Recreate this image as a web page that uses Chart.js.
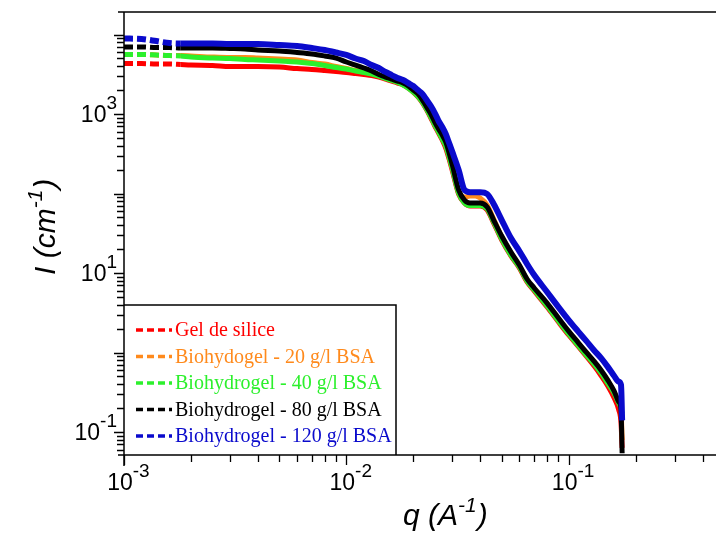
<!DOCTYPE html>
<html lang="fr">
<head>
<meta charset="UTF-8">
<title>SAXS - Biohydrogels</title>
<script src="https://cdn.jsdelivr.net/npm/chart.js"></script>
<style>
  html, body { margin: 0; padding: 0; background: #fff; }
  #wrap { width: 716px; height: 535px; }
</style>
</head>
<body>
<div id="wrap"><canvas id="saxsChart" width="716" height="535"></canvas></div>
<script>
// q in 1/A
const qValues = [0.001, 0.0012, 0.0014, 0.0016, 0.0018, 0.002, 0.0025, 0.003, 0.0035, 0.004,
  0.005, 0.006, 0.007, 0.008, 0.009, 0.010, 0.011, 0.012, 0.013, 0.014,
  0.015, 0.016, 0.017, 0.018, 0.019, 0.020, 0.021, 0.022, 0.023, 0.024,
  0.025, 0.026, 0.027, 0.028, 0.029, 0.030, 0.032, 0.034, 0.036, 0.038,
  0.040, 0.043, 0.046, 0.050, 0.055, 0.060, 0.065, 0.070, 0.080, 0.090,
  0.100, 0.110, 0.120, 0.130, 0.140, 0.150, 0.160, 0.168, 0.172, 0.174];

// I in 1/cm
const gelSilice = [4310, 4310, 4250, 4250, 4190, 4130, 4080, 3960, 3960, 3960,
  3900, 3730, 3630, 3520, 3420, 3330, 3230, 3140, 3050, 2920,
  2750, 2600, 2450, 2320, 2120, 1890, 1640, 1380, 1120, 891,
  707, 577, 471, 373, 271, 192, 98.6, 76, 69.7, 69.7,
  69.7, 62, 42.5, 26, 16.4, 11.6, 7.71, 5.94, 3.73, 2.42,
  1.66, 1.21, 0.90, 0.68, 0.51, 0.38, 0.27, 0.19, 0.13, 0.063];
const bio20 = [5600, 5600, 5520, 5440, 5440, 5370, 5210, 5140, 5140, 5060,
  4920, 4780, 4450, 4250, 3960, 3730, 3520, 3380, 3230, 3050,
  2840, 2680, 2530, 2390, 2190, 1950, 1710, 1440, 1170, 944,
  748, 611, 499, 407, 296, 209, 107, 90.3, 93.0, 93.0,
  87.8, 71.6, 47.8, 28.4, 17.9, 12.3, 8.17, 6.30, 4.07, 2.64,
  1.81, 1.32, 0.99, 0.76, 0.58, 0.44, 0.32, 0.24, 0.20, 0.079];
const bio40 = [5600, 5600, 5520, 5440, 5370, 5210, 5060, 4990, 4850, 4780,
  4640, 4510, 4310, 4070, 3840, 3680, 3480, 3330, 3180, 3000,
  2800, 2640, 2490, 2320, 2120, 1890, 1660, 1400, 1140, 916,
  727, 594, 485, 396, 288, 203, 101, 76, 70.6, 70.6,
  70.6, 63.8, 43.8, 26.8, 16.8, 11.9, 7.93, 6.11, 3.85, 2.49,
  1.71, 1.24, 0.93, 0.72, 0.55, 0.41, 0.31, 0.23, 0.20, 0.17];
const bio80 = [6970, 6970, 6850, 6850, 6760, 6760, 6760, 6670, 6570, 6380,
  6200, 5940, 5690, 5370, 5060, 4510, 4130, 3790, 3480, 3140,
  2920, 2750, 2600, 2450, 2250, 2000, 1790, 1500, 1220, 1000,
  793, 648, 544, 445, 323, 228, 111, 82.8, 76, 76,
  76, 67.6, 46.4, 29.2, 18.4, 12.6, 8.41, 6.48, 4.19, 2.72,
  1.86, 1.35, 1.01, 0.78, 0.60, 0.45, 0.33, 0.24, 0.19, 0.054];
const bio120 = [8910, 8780, 8270, 7810, 7700, 7700, 7700, 7600, 7600, 7600,
  7380, 7170, 6760, 6380, 5940, 5530, 4990, 4640, 4130, 3790,
  3380, 3090, 2840, 2680, 2450, 2250, 2000, 1790, 1500, 1260,
  1030, 817, 686, 560, 431, 332, 198, 111, 104, 104,
  104, 98.6, 73.8, 46.4, 27.5, 18.9, 13.0, 9.43, 5.77, 3.73,
  2.56, 1.86, 1.40, 1.07, 0.85, 0.66, 0.51, 0.43, 0.39, 0.14];

const seriesLabels = ['Gel de silice', 'Biohydogel - 20 g/l BSA', 'Biohydrogel - 40 g/l BSA',
  'Biohydrogel - 80 g/l BSA', 'Biohydrogel - 120 g/l BSA'];
const seriesValues = [gelSilice, bio20, bio40, bio80, bio120];
const seriesColors = ['#ff0000', '#ff8a1c', '#2cf02c', '#000000', '#0a0acc'];

const xLabelDecades = [-3, -2, -1];
const yLabelDecades = [3, 1, -1];

const TICK_FONT = '23px "Liberation Sans", Arial, sans-serif';
const SUP_FONT = '19px "Liberation Sans", Arial, sans-serif';
const TITLE_FONT = 'italic 30px "Liberation Sans", Arial, sans-serif';
const TITLE_SUP = 'italic 21px "Liberation Sans", Arial, sans-serif';
const LEGEND_FONT = '20px "Liberation Serif", "Times New Roman", serif';

// "10" with a raised exponent
function drawPow(ctx, exp, px, base, anchor) {
  const sup = String(exp);
  ctx.font = TICK_FONT;
  const w1 = ctx.measureText('10').width;
  ctx.font = SUP_FONT;
  const w2 = ctx.measureText(sup).width;
  const left = anchor === 'right' ? px - w1 - w2 : px - w1 / 2 - 4;
  ctx.font = TICK_FONT;
  ctx.fillText('10', left, base);
  ctx.font = SUP_FONT;
  ctx.fillText(sup, left + w1, base - 13);
}

function drawTitle(ctx, main, sup, tail, x0, base) {
  ctx.font = TITLE_FONT;
  ctx.fillText(main, x0, base);
  let w = ctx.measureText(main).width;
  ctx.font = TITLE_SUP;
  ctx.fillText(sup, x0 + w, base - 13);
  w += ctx.measureText(sup).width;
  ctx.font = TITLE_FONT;
  ctx.fillText(tail, x0 + w + 1, base);
}

const frame = {
  id: 'frame',
  afterDraw(chart) {
    const { ctx, chartArea: a, scales: { x, y } } = chart;
    ctx.save();
    ctx.strokeStyle = '#000';
    ctx.fillStyle = '#000';
    ctx.textAlign = 'left';
    ctx.textBaseline = 'alphabetic';

    // legend box (bottom left, inside the plot)
    const lx = a.left, ly = 305, lw = 272, lh = a.bottom - ly;
    ctx.fillStyle = '#fff';
    ctx.fillRect(lx, ly, lw, lh);
    ctx.lineWidth = 1.5;
    ctx.beginPath();
    ctx.moveTo(lx, ly); ctx.lineTo(lx + lw, ly); ctx.lineTo(lx + lw, a.bottom);
    ctx.stroke();
    seriesLabels.forEach((lab, i) => {
      const cy = ly + 25 + i * 26.5;
      ctx.strokeStyle = seriesColors[i];
      ctx.lineWidth = 3.5;
      ctx.setLineDash([7, 4]);
      ctx.beginPath();
      ctx.moveTo(lx + 12, cy); ctx.lineTo(lx + 48, cy);
      ctx.stroke();
      ctx.setLineDash([]);
      ctx.fillStyle = seriesColors[i];
      ctx.font = LEGEND_FONT;
      ctx.fillText(lab, lx + 51, cy + 6);
    });

    // axis lines
    ctx.strokeStyle = '#000';
    ctx.fillStyle = '#000';
    ctx.lineWidth = 1.5;
    ctx.beginPath();
    ctx.moveTo(a.left - 6, a.top); ctx.lineTo(a.right, a.top);
    ctx.moveTo(a.left - 6, a.bottom); ctx.lineTo(a.right, a.bottom);
    ctx.moveTo(a.left, a.top); ctx.lineTo(a.left, a.bottom + 11);
    ctx.stroke();

    // ticks
    ctx.lineWidth = 1.3;
    ctx.beginPath();
    for (let e = -3; e <= 0; e++) {
      for (let m = 1; m <= 9; m++) {
        const v = m * Math.pow(10, e);
        if (v < x.min || v > x.max) continue;
        const px = Math.round(x.getPixelForValue(v)) + 0.5;
        ctx.moveTo(px, a.bottom); ctx.lineTo(px, a.bottom + (m === 1 ? 10 : 7));
      }
    }
    for (let e = -2; e <= 4; e++) {
      for (let m = 1; m <= 9; m++) {
        const v = m * Math.pow(10, e);
        if (v < y.min || v > y.max) continue;
        const py = Math.round(y.getPixelForValue(v)) + 0.5;
        ctx.moveTo(a.left, py); ctx.lineTo(a.left - (m === 1 ? 10 : 7), py);
      }
    }
    ctx.stroke();

    // tick labels
    xLabelDecades.forEach(e => drawPow(ctx, e, x.getPixelForValue(Math.pow(10, e)), a.bottom + 35, 'center'));
    yLabelDecades.forEach(e => drawPow(ctx, e, a.left - 7, y.getPixelForValue(Math.pow(10, e)) + 8, 'right'));

    // axis titles
    drawTitle(ctx, 'q (A', '-1', ')', 403, 525);
    ctx.save();
    ctx.translate(55, 275);
    ctx.rotate(-Math.PI / 2);
    drawTitle(ctx, 'I (cm', '-1', ')', 0, 0);
    ctx.restore();

    ctx.restore();
  }
};

const datasets = seriesValues.map((vals, i) => ({
  label: seriesLabels[i],
  data: qValues.map((q, j) => ({ x: q, y: vals[j] })),
  borderColor: seriesColors[i],
  backgroundColor: seriesColors[i],
  borderWidth: i === 4 ? 6 : 5,
  pointRadius: 0,
  fill: false,
  order: 5 - i,
  cubicInterpolationMode: 'monotone',
  segment: { borderDash: c => (c.p1.parsed.x <= 0.0018 ? [9, 4] : undefined) }
}));

new Chart(document.getElementById('saxsChart'), {
  type: 'line',
  data: { datasets },
  options: {
    responsive: false,
    animation: false,
    devicePixelRatio: 1,
    layout: { padding: { left: 124, top: 12, right: 0, bottom: 80 } },
    scales: {
      x: { type: 'logarithmic', min: 0.001, max: 0.46, display: false },
      y: { type: 'logarithmic', min: 0.0514, max: 19200, display: false }
    },
    plugins: { legend: { display: false }, tooltip: { enabled: false } }
  },
  plugins: [frame]
});
</script>
</body>
</html>
